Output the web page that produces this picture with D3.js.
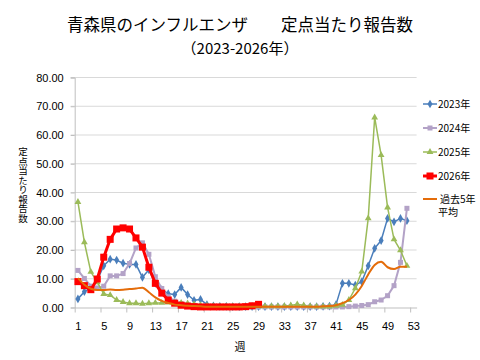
<!DOCTYPE html>
<html>
<head>
<meta charset="utf-8">
<script src="https://cdn.jsdelivr.net/npm/d3@7"></script>
<style>
  body { margin: 0; background: #fff; }
  svg { display: block; }
  text { font-family: "Liberation Sans", Arial, sans-serif; fill: #000; }
  .jp { font-family: "Noto Sans CJK JP", sans-serif; }
</style>
</head>
<body>
<svg width="480" height="360"></svg>
<script>
// week numbers on the x axis
var weeks = d3.range(1, 54);
var weekLabels = [1, 5, 9, 13, 17, 21, 25, 29, 33, 37, 41, 45, 49, 53];
var yTicks = [0, 10, 20, 30, 40, 50, 60, 70, 80];

// reports per sentinel, one value per week
var y2023 = [3.0,5.5,6.8,9.5,14.5,16.8,16.5,15.4,15.0,15.0,
  10.5,13.1,8.4,6.2,4.8,4.5,7.0,4.5,2.5,2.8,
  1.0,0.6,0.4,0.4,0.3,0.3,0.3,0.3,0.3,0.3,
  0.3,0.3,0.3,0.3,0.3,0.3,0.3,0.3,0.4,0.5,
  1.0,8.4,8.4,7.8,9.0,14.5,20.6,23.3,31.0,29.8,31.0,30.2];
var y2024 = [12.9,10.1,7.4,6.8,7.4,11.0,11.0,11.8,15.3,20.7,
  22.5,18.5,10.7,6.6,3.7,2.2,1.3,0.8,0.5,0.3,
  0.2,0.2,0.2,0.2,0.2,0.2,0.2,0.2,0.2,0.2,
  0.2,0.2,0.2,0.2,0.2,0.2,0.2,0.2,0.2,0.2,
  0.2,0.2,0.3,0.5,0.7,1.0,2.0,2.6,4.1,7.6,15.7,34.5];
var y2025 = [36.7,22.7,12.4,8.8,4.7,4.3,2.6,1.9,1.5,1.5,
  1.3,1.5,1.6,1.6,1.7,1.7,1.6,1.4,1.1,0.8,
  0.6,0.5,0.4,0.4,0.4,0.4,0.4,0.4,0.4,0.4,
  0.4,0.4,0.5,0.7,1.1,0.7,0.4,0.3,0.3,0.3,
  0.6,0.9,2.6,6.7,12.5,31.0,66.1,53.0,34.8,23.7,19.9,14.5];
var y2026 = [9.0,7.6,6.2,9.9,17.5,23.7,27.3,27.7,27.3,24.2,
  21.0,14.0,8.4,5.0,2.6,1.5,0.8,0.5,0.3,0.2,
  0.2,0.2,0.2,0.2,0.2,0.2,0.3,0.6,1.1];
var avg5 = [10.2,7.9,6.5,6.1,6.1,6.3,6.1,6.2,6.4,6.6,
  6.9,5.3,3.5,2.3,1.6,1.0,0.8,0.6,0.5,0.4,
  0.3,0.3,0.3,0.3,0.3,0.3,0.3,0.3,0.3,0.3,
  0.3,0.3,0.3,0.3,0.3,0.3,0.3,0.3,0.4,0.5,
  0.8,1.5,2.6,4.5,7.5,11.5,14.8,15.9,14.0,13.4,14.2,14.2];

var series = [
  {name: "2023年", values: y2023, color: "#4a7ebb", width: 1.5, marker: "diamond"},
  {name: "2024年", values: y2024, color: "#b3a2c7", width: 2, marker: "square"},
  {name: "2025年", values: y2025, color: "#9bbb59", width: 1.5, marker: "triangle"},
  {name: "2026年", values: y2026, color: "#ff0000", width: 3, marker: "bigsquare"},
  {name: "過去5年", name2: "平均", values: avg5, color: "#e46c0a", width: 2, marker: null}
];

var svg = d3.select("svg");
var plotL = 74.7, plotR = 416.6, plotT = 77.5, plotB = 307.5;

var x = d3.scaleLinear().domain([0.5, 53.5]).range([plotL, plotR]);
var y = d3.scaleLinear().domain([0, 80]).range([plotB, plotT]);

// title
svg.append("text").attr("class", "jp")
  .attr("x", 240).attr("y", 31).attr("text-anchor", "middle")
  .style("font-size", "16.5px")
  .text("青森県のインフルエンザ\u3000\u3000定点当たり報告数");
svg.append("text").attr("class", "jp")
  .attr("x", 240).attr("y", 54).attr("text-anchor", "middle")
  .style("font-size", "15px")
  .text("（2023-2026年）");

// grid
svg.append("g").selectAll("line")
  .data(yTicks.slice(1))
  .enter().append("line")
    .attr("x1", plotL - 4).attr("x2", plotR)
    .attr("y1", function(d) {return y(d);})
    .attr("y2", function(d) {return y(d);})
    .attr("stroke", "#d9d9d9").attr("stroke-width", 1);

// y axis
var yAxis = svg.append("g")
  .attr("transform", "translate(" + plotL + ",0)")
  .call(d3.axisLeft(y).tickValues(yTicks).tickFormat(d3.format(".2f")).tickSize(4).tickPadding(7));
yAxis.select(".domain").attr("stroke", "#bfbfbf");
yAxis.selectAll(".tick line").attr("stroke", "#bfbfbf");
yAxis.selectAll("text").style("font-size", "11px").style("font-family", "Liberation Sans, Arial, sans-serif");

// x axis: tick marks at category boundaries, labels under categories
var xTickAxis = svg.append("g")
  .attr("transform", "translate(0," + plotB + ")")
  .call(d3.axisBottom(x).tickValues(d3.range(0.5, 54, 4)).tickFormat("").tickSize(5).tickSizeOuter(0));
xTickAxis.select(".domain").attr("stroke", "#bfbfbf");
xTickAxis.selectAll(".tick line").attr("stroke", "#bfbfbf");

var xLabelAxis = svg.append("g")
  .attr("transform", "translate(0," + plotB + ")")
  .call(d3.axisBottom(x).tickValues(weekLabels).tickSize(0).tickPadding(15));
xLabelAxis.select(".domain").remove();
xLabelAxis.selectAll("text").style("font-size", "11px").style("font-family", "Liberation Sans, Arial, sans-serif");

// axis titles
svg.append("text").attr("class", "jp")
  .attr("x", 240).attr("y", 351).attr("text-anchor", "middle")
  .style("font-size", "11px").text("週");
svg.append("text").attr("class", "jp")
  .attr("x", 23).attr("y", 185)
  .attr("text-anchor", "middle")
  .style("writing-mode", "vertical-rl")
  .style("font-size", "9.5px")
  .text("定点当たり報告数");

function drawMarker(g, type, color, cx, cy) {
  if (type == "diamond") {
    g.append("path").attr("d", d3.symbol(d3.symbolDiamond, 22)())
      .attr("transform", "translate(" + cx + "," + cy + ")").attr("fill", color);
  } else if (type == "square") {
    g.append("rect").attr("x", cx - 2.5).attr("y", cy - 2.5).attr("width", 5).attr("height", 5).attr("fill", color);
  } else if (type == "bigsquare") {
    g.append("rect").attr("x", cx - 3.5).attr("y", cy - 3.5).attr("width", 7).attr("height", 7).attr("fill", color);
  } else if (type == "triangle") {
    g.append("path").attr("d", d3.symbol(d3.symbolTriangle, 20)())
      .attr("transform", "translate(" + cx + "," + cy + ")").attr("fill", color);
  }
}

// series lines
series.forEach(function(s) {
  var pts = s.values.map(function(v, i) {return {w: weeks[i], v: v};});
  var line = d3.line()
    .x(function(d) {return x(d.w);})
    .y(function(d) {return y(d.v);});
  if (!s.marker) line.curve(d3.curveMonotoneX);
  var g = svg.append("g");
  g.append("path").datum(pts)
    .attr("d", line)
    .attr("fill", "none")
    .attr("stroke", s.color)
    .attr("stroke-width", s.width)
    .attr("stroke-linejoin", "round");
  if (s.marker) {
    pts.forEach(function(p) {drawMarker(g, s.marker, s.color, x(p.w), y(p.v));});
  }
});

// legend
var legendY = [104, 128, 152, 176, 199];
series.forEach(function(s, i) {
  var g = svg.append("g");
  var ly = legendY[i];
  g.append("line").attr("x1", 423).attr("x2", 437).attr("y1", ly).attr("y2", ly)
    .attr("stroke", s.color).attr("stroke-width", s.width);
  if (s.marker) drawMarker(g, s.marker, s.color, 430, ly);
  g.append("text").attr("class", "jp")
    .attr("x", s.name2 ? 440 : 438).attr("y", ly + 3.5)
    .style("font-size", "10px").text(s.name);
  if (s.name2) {
    g.append("text").attr("class", "jp")
      .attr("x", 438).attr("y", ly + 17)
      .style("font-size", "10px").text(s.name2);
  }
});
</script>
</body>
</html>
